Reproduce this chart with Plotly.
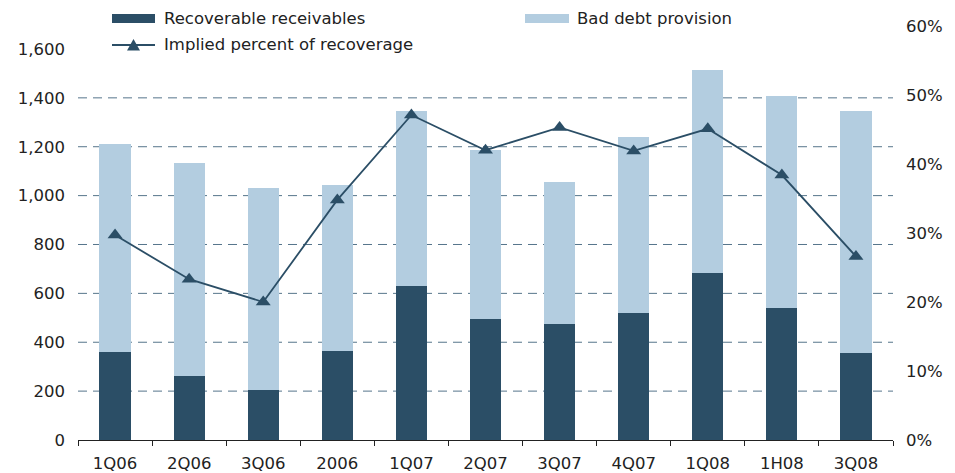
import plotly.graph_objects as go

periods = ["1Q06", "2Q06", "3Q06", "2006", "1Q07", "2Q07", "3Q07", "4Q07", "1Q08", "1H08", "3Q08"]
recoverable = [360, 262, 205, 365, 631, 496, 475, 520, 684, 541, 356]
bad_debt = [853, 873, 827, 680, 717, 692, 582, 718, 828, 868, 992]
recovery_pct = [0.297, 0.233, 0.200, 0.348, 0.471, 0.420, 0.453, 0.419, 0.451, 0.384, 0.266]

left_ticks = [0, 200, 400, 600, 800, 1000, 1200, 1400, 1600]
grid_levels = [200, 400, 600, 800, 1000, 1200, 1400]
right_ticks = [0, 0.1, 0.2, 0.3, 0.4, 0.5, 0.6]

DARK = "#2B4E66"
LIGHT = "#B3CDE0"
GRID = "#56758B"
TEXT = "#222222"
FONT = "DejaVu Sans"
FSIZE = 16.5

W, H = 955, 473
ML, MR, MT, MB = 78, 62, 26, 33
PW, PH = W - ML - MR, H - MT - MB


def px(x):
    return (x - ML) / PW


def py(y):
    return (H - MB - y) / PH


fig = go.Figure()
fig.add_trace(go.Bar(x=periods, y=recoverable, name="Recoverable receivables",
                     marker=dict(color=DARK, line=dict(width=0))))
fig.add_trace(go.Bar(x=periods, y=bad_debt, name="Bad debt provision",
                     marker=dict(color=LIGHT, line=dict(width=0))))
fig.add_trace(go.Scatter(x=periods, y=recovery_pct, name="Implied percent of recoverage",
                         yaxis="y2", mode="lines+markers",
                         line=dict(color=DARK, width=1.8),
                         marker=dict(symbol="triangle-up", size=13, color=DARK)))

# dashed horizontal guides at the left-axis levels
for g in grid_levels:
    fig.add_shape(type="line", xref="paper", yref="y", x0=0, x1=1, y0=g, y1=g,
                  line=dict(color=GRID, width=1, dash="9px,6px"), layer="below")

# legend drawn above the plot area: two swatches on the first row, line key below
legend_shapes = [
    dict(type="rect", x0=px(112), x1=px(155), y0=py(23), y1=py(14),
         fillcolor=DARK, line=dict(width=0)),
    dict(type="rect", x0=px(525), x1=px(569), y0=py(23), y1=py(14),
         fillcolor=LIGHT, line=dict(width=0)),
    dict(type="line", x0=px(112), x1=px(155), y0=py(45), y1=py(45),
         line=dict(color=DARK, width=1.8)),
    dict(type="path",
         path=f"M {px(127)} {py(50.5)} L {px(140)} {py(50.5)} L {px(133.5)} {py(39)} Z",
         fillcolor=DARK, line=dict(width=0)),
]
for s in legend_shapes:
    fig.add_shape(xref="paper", yref="paper", **s)

legend_texts = [
    ("Recoverable receivables", 162, 19),
    ("Bad debt provision", 575, 19),
    ("Implied percent of recoverage", 162, 45),
]
for label, lx, ly in legend_texts:
    fig.add_annotation(text=label, xref="paper", yref="paper", x=px(lx), y=py(ly),
                       xanchor="left", yanchor="middle", showarrow=False,
                       font=dict(family=FONT, size=FSIZE, color=TEXT))

fig.update_layout(
    width=W, height=H,
    margin=dict(l=ML, r=MR, t=MT, b=MB, autoexpand=False),
    paper_bgcolor="white", plot_bgcolor="white",
    barmode="stack", bargap=0.58,
    font=dict(family=FONT, size=FSIZE, color=TEXT),
    showlegend=False,
    xaxis=dict(range=[-0.5, len(periods) - 0.5], showgrid=False, showline=True,
               linecolor=TEXT, linewidth=1,
               ticks="outside", tickson="boundaries", ticklen=5, tickcolor=TEXT,
               ticklabelstandoff=8, automargin=False,
               tickfont=dict(family=FONT, size=FSIZE, color=TEXT)),
    yaxis=dict(range=[0, 1694], tickvals=left_ticks, tickformat=",d",
               showgrid=False, zeroline=False, showline=False, ticks="",
               ticklabelstandoff=12, automargin=False,
               tickfont=dict(family=FONT, size=FSIZE, color=TEXT)),
    yaxis2=dict(range=[0, 0.6], tickvals=right_ticks, tickformat=".0%",
                overlaying="y", side="right", showgrid=False, zeroline=False,
                showline=False, ticks="", ticklabelstandoff=12, automargin=False,
                tickfont=dict(family=FONT, size=FSIZE, color=TEXT)),
)

fig.write_html("out.html")
